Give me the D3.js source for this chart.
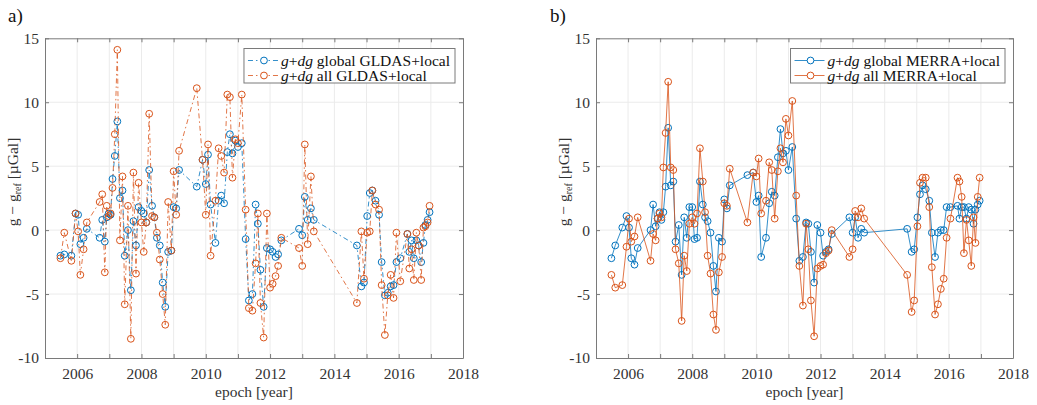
<!DOCTYPE html>
<html>
<head>
<meta charset="utf-8">
<script src="https://cdn.jsdelivr.net/npm/d3@7"></script>
<style>
  html, body { margin: 0; padding: 0; background: #fff; }
  svg, svg text { font-family: 'Liberation Serif', 'DejaVu Serif', 'Times New Roman', serif !important; }
</style>
</head>
<body>
<svg id="chart" width="1037" height="405"></svg>
<script>
// Survey epochs (decimal years), shared by every series
const epochs = [
  2005.48, 2005.6, 2005.82, 2005.95, 2006.03, 2006.1, 2006.2, 2006.3,
  2006.7, 2006.78, 2006.86, 2006.92, 2006.98, 2007.04, 2007.1, 2007.17, 2007.25, 2007.33,
  2007.41, 2007.48, 2007.58, 2007.67, 2007.75, 2007.83, 2007.91, 2008.0, 2008.07, 2008.15,
  2008.24, 2008.33, 2008.4, 2008.48, 2008.57, 2008.66, 2008.74, 2008.83, 2008.93, 2009.0,
  2009.08, 2009.17,
  2009.72, 2009.9, 2010.0, 2010.07, 2010.15, 2010.3, 2010.4, 2010.48, 2010.57, 2010.67,
  2010.75, 2010.83, 2010.92, 2011.0, 2011.12, 2011.24, 2011.34, 2011.45, 2011.55, 2011.62,
  2011.7, 2011.8, 2011.9, 2012.0, 2012.08, 2012.17, 2012.25, 2012.35,
  2012.9, 2013.0, 2013.08, 2013.17, 2013.27, 2013.36,
  2014.7, 2014.84, 2014.92, 2015.02, 2015.1, 2015.18, 2015.28, 2015.39, 2015.47, 2015.57,
  2015.66, 2015.75, 2015.84, 2015.93, 2016.05, 2016.27, 2016.33, 2016.4, 2016.47, 2016.55,
  2016.62, 2016.7, 2016.77, 2016.83, 2016.9, 2016.96
];

// g+dg residuals [µGal]
const gldasGlobal = [
  -2.0, -1.9, -2.0, 1.3, 1.2, -1.1, -0.6, 0.1,
  -0.6, 0.8, -0.9, 1.0, 1.3, 1.2, 4.0, 5.8, 8.5, 2.5,
  3.1, -2.0, 0.0, -4.7, 0.7, -1.2, 1.8, 1.5, 1.3, 0.6,
  4.7, 1.9, 1.0, -0.6, -1.2, -4.1, -6.0, -1.7, -1.6, 1.8,
  1.7, 4.7,
  3.4, 5.5, 3.6, 5.9, 2.0, -1.0, 2.3, 2.7, 2.1, 6.1,
  7.5, 6.0, 7.0, 6.5, 6.8, -0.7, -5.5, -5.0, 2.0, 0.5,
  -3.1, -6.0, -1.4, -1.5, -1.7, -2.1, -1.9, -0.8,
  0.1, -0.4, 2.6, 0.8, 1.7, 0.8,
  -1.2, -4.4, -4.1, 1.1, 2.9, 3.1, 2.3, 1.2, -2.5, -5.1,
  -4.9, -4.4, -4.3, -2.5, -2.2, -0.3, -1.7, -0.8, -2.2, -0.8,
  -1.2, -2.5, -1.0, 0.4, 0.8, 1.4
];
const gldasAll = [
  -2.2, -0.2, -2.4, 1.3, -0.1, -3.5, -1.5, 0.6,
  2.2, 2.8, -3.3, 1.9, 1.1, 1.3, 3.3, 7.5, 14.1, -0.8,
  4.2, -5.8, 1.9, -8.5, 4.5, -3.4, 3.7, 0.6, -1.7, 0.6,
  9.1, 1.1, 1.0, -0.2, -2.3, -5.0, -7.4, 2.2, -1.6, 4.6,
  1.2, 6.2,
  11.1, 5.5, 1.2, 6.7, -2.0, 2.3, 6.4, 5.8, 4.5, 10.6,
  10.4, 4.1, 7.1, 6.8, 10.6, 1.6, -6.1, -6.3, -2.6, 1.3,
  -5.7, -8.4, 1.3, -4.5, -4.2, -3.6, -2.8, -0.6,
  -1.4, -2.8, 6.7, -1.1, 4.2, -0.1,
  -5.7, -0.1, -3.8, -0.2, -0.1, 3.1, 2.0, 1.6, -4.3, -8.2,
  -5.1, -3.5, -5.3, -0.2, -4.0, -0.3, -3.0, -1.5, -3.9, -0.2,
  -1.2, -3.9, 0.2, 0.3, 0.6, 1.9
];
const merraGlobal = [
  -2.2, -1.2, 0.2, 1.1, 0.2, -2.2, -2.7, -1.4,
  0.0, 2.0, 0.3, 0.9, 1.4, 0.8, 1.4, 3.4, 8.0, 3.5,
  3.8, -0.9, 0.4, -3.5, 1.0, -0.6, 1.8, 1.8, -0.7, -0.6,
  3.8, 2.0, 1.0, 0.7, -0.2, -2.8, -4.8, -0.6, -0.9, 2.4,
  1.7, 3.5,
  4.3, 4.5, 2.2, 2.7, -2.1, -0.6, 2.1, 3.0, 2.7, 5.7,
  7.9, 6.0, 6.2, 4.7, 6.5, 0.9, -2.4, -2.1, 0.6, 0.5,
  -1.7, -4.1, 0.4, -0.2, -2.0, -1.7, -1.5, -0.3,
  1.0, -0.2, 1.0, -0.6, 0.1, -0.2,
  0.1, -1.7, -1.5, 1.0, 2.8, 3.5, 3.2, 2.3, -0.2, -2.1,
  -0.2, 0.0, 0.0, 1.8, 1.8, 1.9, 0.9, 1.8, 1.8, 0.9,
  1.8, 1.6, 0.5, 1.6, 2.0, 2.3
];
const merraAll = [
  -3.5, -4.5, -4.3, -1.3, 0.9, -0.9, -0.5, 1.0,
  -2.4, -0.3, -0.8, 0.9, 1.3, 1.0, 4.9, 7.6, 11.6, 4.9,
  4.7, -1.5, -2.6, -7.1, -2.0, -3.2, 0.5, 1.0, 0.5, 1.3,
  6.4, 3.8, 1.4, -2.0, -3.4, -6.6, -7.8, -3.3, -2.1, 2.1,
  1.9, 4.8,
  0.6, 4.5, 4.2, 5.6, 1.3, 2.3, 5.3, 4.7, 0.9, 4.6,
  6.4, 5.3, 8.7, 7.4, 10.1, 2.7, -2.8, -5.9, 0.5, -1.5,
  -5.5, -8.3, -3.0, -2.8, -2.7, -1.8, -1.6, 0.0,
  -2.1, -1.5, 1.5, 1.0, 1.7, 0.9,
  -3.5, -6.4, -5.5, 0.3, 3.7, 4.1, 4.1, 1.8, -2.9, -6.6,
  -5.8, -4.6, -3.8, -0.6, 0.9, 4.1, 3.8, 2.6, -1.8, 0.8,
  -0.8, -2.8, 1.0, -1.0, 2.6, 4.1
];

// Axis ticks and labels
const xDomain = [2005, 2018];
const yDomain = [-10, 15];
const xTicks = d3.range(2005, 2019);
const xTickLabels = [2006, 2008, 2010, 2012, 2014, 2016, 2018];
const yTicks = [-10, -5, 0, 5, 10, 15];
const legendGldas = ["global GLDAS+local", "all GLDAS+local"];
const legendMerra = ["global MERRA+local", "all MERRA+local"];

const FONT = "'Liberation Serif', 'DejaVu Serif', 'Times New Roman', serif";
const BLUE = "#0072BD";
const ORANGE = "#D95319";
const AXIS = "#7a7a7a";
const TEXT = "#333333";
const GRID = "#ebebeb";

const svg = d3.select("#chart").attr("font-family", FONT);
const plotTop = 38.3, plotBottom = 358;

const panels = [
  { tag: "a)", tagX: 8, left: 45, right: 463, dash: "5,3,1.5,3",
    series: [
      { values: gldasGlobal, color: BLUE, label: legendGldas[0] },
      { values: gldasAll, color: ORANGE, label: legendGldas[1] }
    ] },
  { tag: "b)", tagX: 550, left: 596, right: 1013, dash: null,
    series: [
      { values: merraGlobal, color: BLUE, label: legendMerra[0] },
      { values: merraAll, color: ORANGE, label: legendMerra[1] }
    ] }
];

panels.forEach(p => {
  const x = d3.scaleLinear().domain(xDomain).range([p.left, p.right]);
  const y = d3.scaleLinear().domain(yDomain).range([plotBottom, plotTop]);
  const g = svg.append("g").attr("font-family", FONT);

  // grid
  g.append("g").selectAll("line").data(xTicks.slice(1, -1)).join("line")
    .attr("x1", d => x(d)).attr("x2", d => x(d))
    .attr("y1", plotTop).attr("y2", plotBottom)
    .attr("stroke", GRID).attr("stroke-width", 1);
  g.append("g").selectAll("line").data(yTicks.slice(1, -1)).join("line")
    .attr("x1", p.left).attr("x2", p.right)
    .attr("y1", d => y(d)).attr("y2", d => y(d))
    .attr("stroke", GRID).attr("stroke-width", 1);

  // axes (bottom/left with labels, top/right mirrored ticks)
  const fmtX = d => xTickLabels.includes(d) ? String(d) : "";
  const ax = g.append("g").attr("transform", `translate(0,${plotBottom})`)
    .call(d3.axisBottom(x).tickValues(xTicks).tickFormat(fmtX).tickSizeInner(-4).tickSizeOuter(0).tickPadding(10));
  const axT = g.append("g").attr("transform", `translate(0,${plotTop})`)
    .call(d3.axisTop(x).tickValues(xTicks).tickFormat("").tickSizeInner(-4).tickSizeOuter(0));
  const ay = g.append("g").attr("transform", `translate(${p.left},0)`)
    .call(d3.axisLeft(y).tickValues(yTicks).tickFormat(d => String(d)).tickSizeInner(-4).tickSizeOuter(0).tickPadding(6));
  const ayR = g.append("g").attr("transform", `translate(${p.right},0)`)
    .call(d3.axisRight(y).tickValues(yTicks).tickFormat("").tickSizeInner(-4).tickSizeOuter(0));
  [ax, axT, ay, ayR].forEach(a => {
    a.attr("font-family", FONT);
    a.select(".domain").attr("stroke", AXIS).attr("stroke-width", 1);
    a.selectAll(".tick line").attr("stroke", AXIS).attr("stroke-width", 1);
    a.selectAll("text").attr("fill", TEXT).attr("font-size", 15.5)
      .attr("font-family", FONT);
  });

  // data series
  p.series.forEach(s => {
    const pts = epochs.map((e, i) => [e, s.values[i]]);
    const line = d3.line().x(d => x(d[0])).y(d => y(d[1]));
    g.append("path").datum(pts)
      .attr("d", line)
      .attr("fill", "none")
      .attr("stroke", s.color)
      .attr("stroke-width", 0.8)
      .attr("stroke-dasharray", p.dash);
    g.append("g").selectAll("circle").data(pts).join("circle")
      .attr("cx", d => x(d[0])).attr("cy", d => y(d[1]))
      .attr("r", 3.4)
      .attr("fill", "none")
      .attr("stroke", s.color)
      .attr("stroke-width", 1);
  });

  // axis titles
  g.append("text")
    .attr("x", (p.left + p.right) / 2).attr("y", 397)
    .attr("text-anchor", "middle").attr("font-size", 15.5).attr("fill", TEXT)
    .text("epoch [year]");
  const yl = g.append("text")
    .attr("transform", `translate(${p.left - 27},182) rotate(-90)`)
    .attr("text-anchor", "middle").attr("font-size", 15.5).attr("fill", TEXT);
  yl.append("tspan").text("g \u2212 g");
  yl.append("tspan").attr("font-size", 10).attr("dy", 3).text("ref");
  yl.append("tspan").attr("dy", -3).text(" [\u00b5Gal]");

  // panel tag
  g.append("text").attr("x", p.tagX).attr("y", 22)
    .attr("font-size", 19).attr("fill", "#111").text(p.tag);

  // legend
  const leg = g.append("g");
  const rowY = [60.5, 75.5];
  const texts = p.series.map((s, i) => {
    const t = leg.append("text").attr("y", rowY[i] + 5)
      .attr("font-size", 15.5).attr("fill", "#111");
    t.append("tspan").attr("font-style", "italic").text("g");
    t.append("tspan").text("+");
    t.append("tspan").attr("font-style", "italic").text("dg");
    t.append("tspan").text(" " + s.label);
    return t;
  });
  const tw = d3.max(texts, t => t.node().getComputedTextLength());
  const boxW = 37 + tw + 5;
  const boxX = p.right - 8 - boxW;
  leg.insert("rect", ":first-child")
    .attr("x", boxX).attr("y", 48.5).attr("width", boxW).attr("height", 34.5)
    .attr("fill", "#fff").attr("stroke", AXIS).attr("stroke-width", 1);
  texts.forEach(t => t.attr("x", boxX + 37));
  p.series.forEach((s, i) => {
    leg.append("line")
      .attr("x1", boxX + 4).attr("x2", boxX + 34)
      .attr("y1", rowY[i]).attr("y2", rowY[i])
      .attr("stroke", s.color).attr("stroke-width", 0.8)
      .attr("stroke-dasharray", p.dash);
    leg.append("circle").attr("cx", boxX + 20).attr("cy", rowY[i]).attr("r", 3.4)
      .attr("fill", "#fff").attr("stroke", s.color).attr("stroke-width", 1);
  });
});
</script>
</body>
</html>
